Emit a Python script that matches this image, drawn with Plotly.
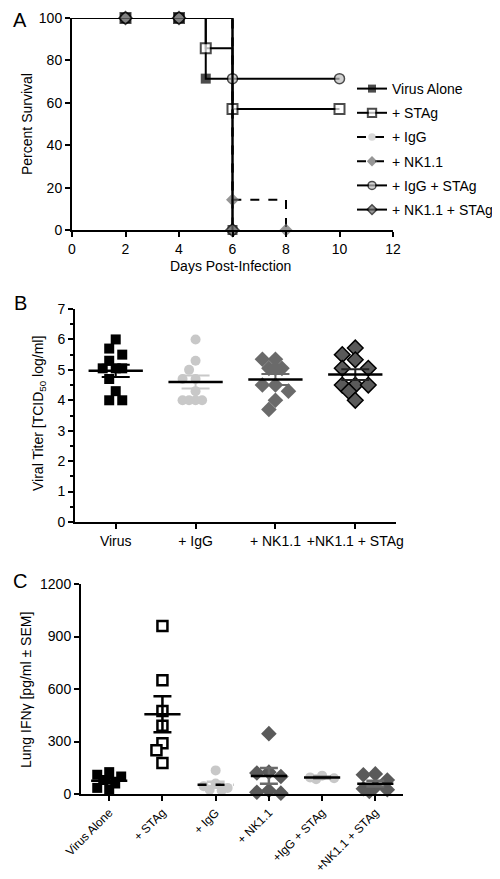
import math
import numpy as np
import plotly.graph_objects as go

# ---------------- Data ----------------
# Panel A: Kaplan-Meier survival
surv_names = ["Virus Alone", "+ STAg", "+ IgG", "+ NK1.1", "+ IgG + STAg", "+ NK1.1 + STAg"]
surv_days = [
    [0, 2, 4, 5, 6],
    [0, 2, 4, 5, 6, 10],
    [0, 2, 4, 6],
    [0, 2, 4, 6, 8],
    [0, 2, 4, 6, 10],
    [0, 2, 4, 6],
]
surv_pct = [
    [100, 100, 100, 71.4, 0],
    [100, 100, 100, 85.7, 57.1, 57.1],
    [100, 100, 100, 0],
    [100, 100, 100, 14.3, 0],
    [100, 100, 100, 71.4, 71.4],
    [100, 100, 100, 0],
]
x_ticks_A = [0, 2, 4, 6, 8, 10, 12]
y_ticks_A = [0, 20, 40, 60, 80, 100]

# Panel B: viral titer
titer_cats = ["Virus", "+ IgG", "+ NK1.1", "+NK1.1 + STAg"]
titer_virus = [6.0, 5.7, 5.5, 5.3, 5.05, 5.05, 5.05, 4.7, 4.3, 4.0, 4.0]
titer_igg = [6.0, 5.3, 5.0, 4.7, 4.7, 4.3, 4.0, 4.0, 4.0, 4.0]
titer_nk = [5.35, 5.35, 5.05, 5.05, 5.05, 4.5, 4.5, 4.3, 4.0, 3.7]
titer_nkstag = [5.72, 5.5, 5.33, 5.05, 5.05, 4.5, 4.5, 4.5, 4.3, 4.0]
titer_data = [titer_virus, titer_igg, titer_nk, titer_nkstag]

# Panel C: lung IFN-gamma
ifn_cats = ["Virus Alone", "+ STAg", "+ IgG", "+ NK1.1", "+IgG + STAg", "+NK1.1 + STAg"]
ifn_virus = [125, 110, 100, 80, 60, 35, 25]
ifn_stag = [960, 650, 475, 390, 290, 250, 177]
ifn_igg = [135, 60, 45, 35, 25, 20]
ifn_nk = [345, 125, 120, 100, 20, 10, 5]
ifn_iggstag = [105, 95, 90, 85]
ifn_nkstag = [115, 110, 80, 40, 30, 25, 15]
ifn_data = [ifn_virus, ifn_stag, ifn_igg, ifn_nk, ifn_iggstag, ifn_nkstag]

FONT = "Liberation Sans, Arial, sans-serif"
LG = "#c8c8c8"
MG = "#6a6a6a"
DG = "#5a5a5a"

W, H = 500, 879


def px(p):
    return p / W


def py(p):
    return 1 - p / H


def swarm(vals, px_per_unit, px_per_cat, diam, step, kmax):
    """Simple beeswarm: spread overlapping points sideways (pixel-based)."""
    order = sorted(range(len(vals)), key=lambda i: -vals[i])
    placed = []
    offs = [0.0] * len(vals)
    cands = [0.0]
    for k in range(1, kmax + 1):
        cands += [-k * step, k * step]
    for i in order:
        y = vals[i] * px_per_unit
        best, best_d = None, -1
        for c in cands:
            d = min([math.hypot(c - qx, y - qy) for qx, qy in placed] or [1e9])
            if d >= diam:
                best = c
                break
            if d > best_d:
                best, best_d = c, d
        placed.append((best, y))
        offs[i] = best / px_per_cat
    return offs


def mean_sem(v):
    a = np.array(v, dtype=float)
    return a.mean(), a.std(ddof=1) / math.sqrt(len(a))


fig = go.Figure()

# ---------------- Panel A ----------------
styleA = [
    dict(symbol="square", color="black", line=dict(color="black", width=0), dash="solid"),
    dict(symbol="square", color="white", line=dict(color="black", width=2), dash="solid"),
    dict(symbol="circle", color=LG, line=dict(color=LG, width=0), dash="dash"),
    dict(symbol="diamond", color=MG, line=dict(color=MG, width=0), dash="dash"),
    dict(symbol="circle", color="#c0c0c0", line=dict(color="black", width=1.5), dash="solid"),
    dict(symbol="diamond", color="#6e6e6e", line=dict(color="black", width=1.5), dash="solid"),
]
for i, name in enumerate(surv_names):
    s = styleA[i]
    sizes = [0] + [10] * (len(surv_days[i]) - 1)
    fig.add_trace(go.Scatter(
        x=surv_days[i], y=surv_pct[i], name=name, mode="lines+markers",
        line=dict(shape="hv", color="black", width=2, dash=s["dash"]),
        marker=dict(symbol=s["symbol"], color=s["color"], size=sizes, line=s["line"]),
        xaxis="x", yaxis="y", cliponaxis=False, legendgroup=f"g{i}",
    ))

# ---------------- Panel B ----------------
B_px_unit = 30.3
B_px_cat = 79.7
styleB = [
    dict(symbol="square", color="black", line=dict(color="black", width=0), size=10, sem="black"),
    dict(symbol="circle", color=LG, line=dict(color=LG, width=0), size=10, sem=LG),
    dict(symbol="diamond", color=MG, line=dict(color=MG, width=0), size=12, sem=MG),
    dict(symbol="diamond", color=DG, line=dict(color="black", width=1.5), size=12, sem="#222222"),
]
for i, vals in enumerate(titer_data):
    s = styleB[i]
    offs = swarm(vals, B_px_unit, B_px_cat, 11, 6.5, 2)
    fig.add_trace(go.Scatter(
        x=[i + o for o in offs], y=vals, mode="markers", showlegend=False,
        marker=dict(symbol=s["symbol"], color=s["color"], size=s["size"], line=s["line"]),
        xaxis="x2", yaxis="y2", cliponaxis=False,
    ))
    m, se = mean_sem(vals)
    fig.add_trace(go.Scatter(
        x=[i], y=[m], mode="markers", showlegend=False, marker=dict(size=1, color="rgba(0,0,0,0)"),
        error_y=dict(type="data", array=[se], color=s["sem"], thickness=2, width=14),
        xaxis="x2", yaxis="y2",
    ))
    fig.add_trace(go.Scatter(
        x=[i - 0.34, i + 0.34], y=[m, m], mode="lines", showlegend=False,
        line=dict(color="black", width=2.5), xaxis="x2", yaxis="y2",
    ))

# ---------------- Panel C ----------------
C_px_unit = 52.5 / 300
C_px_cat = 53.3
styleC = [
    dict(symbol="square", color="black", line=dict(color="black", width=0), size=10, sem="black", dash="solid"),
    dict(symbol="square", color="white", line=dict(color="black", width=2.5), size=10, sem="black", dash="solid"),
    dict(symbol="circle", color=LG, line=dict(color=LG, width=0), size=10, sem=LG, dash="dash"),
    dict(symbol="diamond", color=DG, line=dict(color=DG, width=0), size=12, sem=MG, dash="solid"),
    dict(symbol="circle", color=LG, line=dict(color=LG, width=0), size=10, sem=MG, dash="solid"),
    dict(symbol="diamond", color=DG, line=dict(color=DG, width=0), size=12, sem=MG, dash="solid"),
]
for i, vals in enumerate(ifn_data):
    s = styleC[i]
    offs = swarm(vals, C_px_unit, C_px_cat, 9, 6, 2)
    fig.add_trace(go.Scatter(
        x=[i + o for o in offs], y=vals, mode="markers", showlegend=False,
        marker=dict(symbol=s["symbol"], color=s["color"], size=s["size"], line=s["line"]),
        xaxis="x3", yaxis="y3", cliponaxis=False,
    ))
    m, se = mean_sem(vals)
    fig.add_trace(go.Scatter(
        x=[i], y=[m], mode="markers", showlegend=False, marker=dict(size=1, color="rgba(0,0,0,0)"),
        error_y=dict(type="data", array=[se], color=s["sem"], thickness=2.5, width=9),
        xaxis="x3", yaxis="y3",
    ))
    fig.add_trace(go.Scatter(
        x=[i - 0.34, i + 0.34], y=[m, m], mode="lines", showlegend=False,
        line=dict(color="black", width=2.5, dash=s["dash"]), xaxis="x3", yaxis="y3",
    ))

axis_common = dict(showline=True, linecolor="black", linewidth=2, ticks="outside",
                   tickcolor="black", tickwidth=2, ticklen=5, showgrid=False, zeroline=False,
                   automargin=False)
tf14 = dict(family=FONT, size=14, color="black")
tf12 = dict(family=FONT, size=12, color="black")

fig.update_layout(
    template="none",
    width=W, height=H, margin=dict(l=0, r=0, t=0, b=0, autoexpand=False),
    paper_bgcolor="white", plot_bgcolor="white",
    font=dict(family=FONT, color="black"),
    showlegend=True,
    legend=dict(x=px(344), y=py(65), xanchor="left", yanchor="top",
                font=dict(family=FONT, size=14, color="black"),
                tracegroupgap=3, itemwidth=30, bgcolor="rgba(0,0,0,0)"),
    xaxis=dict(domain=[px(64), px(385)], range=[0, 12], tickvals=x_ticks_A, anchor="y",
               tickfont=tf14, **axis_common),
    yaxis=dict(domain=[py(222), py(10)], range=[0, 100], tickvals=y_ticks_A, anchor="x",
               tickfont=tf14, **axis_common),
    xaxis2=dict(domain=[px(67), px(388)], range=[-0.51, 3.51], tickvals=list(range(len(titer_cats))),
                ticktext=titer_cats, tickangle=0, anchor="y2", tickfont=tf14, **axis_common),
    yaxis2=dict(domain=[py(514), py(301)], range=[0, 7], tickvals=list(range(8)), anchor="x2",
                minor=dict(dtick=0.5, ticks="outside", ticklen=3, tickwidth=2, tickcolor="black"),
                tickfont=tf14, **axis_common),
    xaxis3=dict(domain=[px(73), px(395)], range=[-0.53, 5.52], tickvals=list(range(len(ifn_cats))),
                ticktext=ifn_cats, tickangle=-45, anchor="y3", tickfont=tf12, **axis_common),
    yaxis3=dict(domain=[py(786), py(576)], range=[0, 1200], tickvals=[0, 300, 600, 900, 1200],
                anchor="x3", tickfont=tf14, **axis_common),
)

annotations = []
for letter, yy in [("A", 12), ("B", 295), ("C", 573)]:
    annotations.append(dict(text=letter, x=px(12), y=py(yy), xref="paper", yref="paper",
                            showarrow=False, xanchor="center", yanchor="middle",
                            font=dict(family=FONT, size=20, color="black")))
for text, xx, yy, ang in [
    ("Percent Survival", 19, 116, -90),
    ("Days Post-Infection", 222, 258, 0),
    ("Viral Titer [TCID<sub>50</sub> log/ml]", 31, 406, -90),
    ("Lung IFN\u03b3 [pg/ml \u00b1 SEM]", 18, 682, -90),
]:
    annotations.append(dict(text=text, x=px(xx), y=py(yy), textangle=ang, xref="paper", yref="paper",
                            showarrow=False, xanchor="center", yanchor="middle",
                            font=dict(family=FONT, size=14, color="black")))
fig.update_layout(annotations=annotations)

fig.write_html("out.html")
